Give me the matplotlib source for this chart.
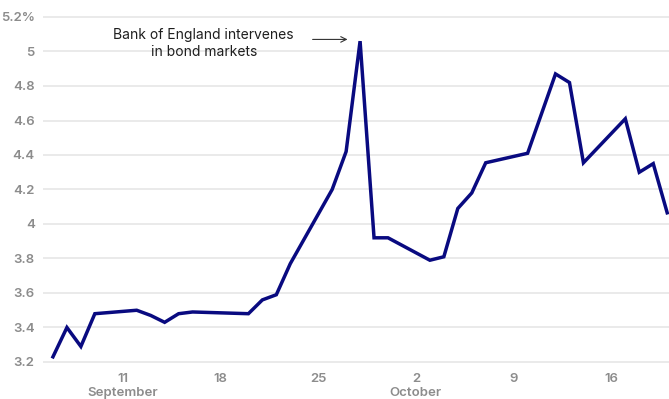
import matplotlib
matplotlib.use("Agg")
import matplotlib.pyplot as plt
import matplotlib.dates as mdates
import numpy as np
import datetime as dt

dates = ["2022-09-06", "2022-09-07", "2022-09-08", "2022-09-09",
         "2022-09-12", "2022-09-13", "2022-09-14", "2022-09-15", "2022-09-16",
         "2022-09-20", "2022-09-21", "2022-09-22", "2022-09-23",
         "2022-09-26", "2022-09-27", "2022-09-28", "2022-09-29", "2022-09-30",
         "2022-10-03", "2022-10-04", "2022-10-05", "2022-10-06", "2022-10-07",
         "2022-10-10", "2022-10-12", "2022-10-13", "2022-10-14",
         "2022-10-17", "2022-10-18", "2022-10-19", "2022-10-20"]
yields = [3.23, 3.40, 3.29, 3.48,
          3.50, 3.47, 3.43, 3.48, 3.49,
          3.48, 3.56, 3.59, 3.77,
          4.20, 4.42, 5.06, 3.92, 3.92,
          3.79, 3.81, 4.09, 4.18, 4.355,
          4.41, 4.87, 4.82, 4.355,
          4.61, 4.30, 4.35, 4.065]

y_ticks = [3.2, 3.4, 3.6, 3.8, 4.0, 4.2, 4.4, 4.6, 4.8, 5.0, 5.2]
y_labels = ["3.2", "3.4", "3.6", "3.8", "4", "4.2", "4.4", "4.6", "4.8", "5", "5.2%"]
x_ticks = ["2022-09-11", "2022-09-18", "2022-09-25", "2022-10-02", "2022-10-09", "2022-10-16"]
x_labels = ["11\nSeptember", "18", "25", "2\nOctober", "9", "16"]
annotation = "Bank of England intervenes\nin bond markets"

plt.rcParams['font.family'] = ['Inter', 'DejaVu Sans']

W, H = 669, 399
fig = plt.figure(figsize=(W / 100, H / 100), dpi=100)

# pixel layout
ax_left, ax_right = 43, 669
ppu = 172.5
y_top_px = 17 - 0.05 * ppu
y_bot_px = 362 + 0.05 * ppu
ax = fig.add_axes([ax_left / W, (H - y_bot_px) / H, (ax_right - ax_left) / W, (y_bot_px - y_top_px) / H])

d = [dt.datetime.strptime(s, "%Y-%m-%d") for s in dates]
xd = mdates.date2num(d)
ax.plot(xd, yields, color="#090a80", lw=2.5, solid_joinstyle="miter", zorder=3)

ppd = 13.96
sep5 = mdates.date2num(dt.datetime(2022, 9, 5))
ax.set_xlim(sep5 + (43 - 39) / ppd, sep5 + (669 - 39) / ppd)
ax.set_ylim(3.15, 5.25)

ax.set_yticks(y_ticks)
ax.set_yticklabels(y_labels)
xt = [mdates.date2num(dt.datetime.strptime(s, "%Y-%m-%d")) for s in x_ticks]
ax.set_xticks(xt)
ax.set_xticklabels(x_labels, linespacing=1.2)

for sp in ax.spines.values():
    sp.set_visible(False)
ax.grid(axis="y", color="#e6e6e6", lw=1.2, zorder=0)
ax.grid(axis="x", visible=False)
ax.tick_params(axis="both", length=0, colors="#8c8c8c", labelsize=9.5)
ax.tick_params(axis="y", pad=6)
ax.tick_params(axis="x", pad=1.5)
for lab in ax.get_xticklabels() + ax.get_yticklabels():
    lab.set_fontweight("semibold")

# annotation
ax.text(mdates.date2num(dt.datetime(2022, 9, 17)) - 0.2, 5.045, annotation,
        ha="center", va="center", fontsize=10, color="#1e1e1e", linespacing=1.3)
ax.annotate("", xy=(mdates.date2num(dt.datetime(2022, 9, 27)) + 0.3, 5.07),
            xytext=(mdates.date2num(dt.datetime(2022, 9, 24)) + 0.4, 5.07),
            arrowprops=dict(arrowstyle="->", color="#333333", lw=0.8))

fig.savefig("out.png", dpi=100)
